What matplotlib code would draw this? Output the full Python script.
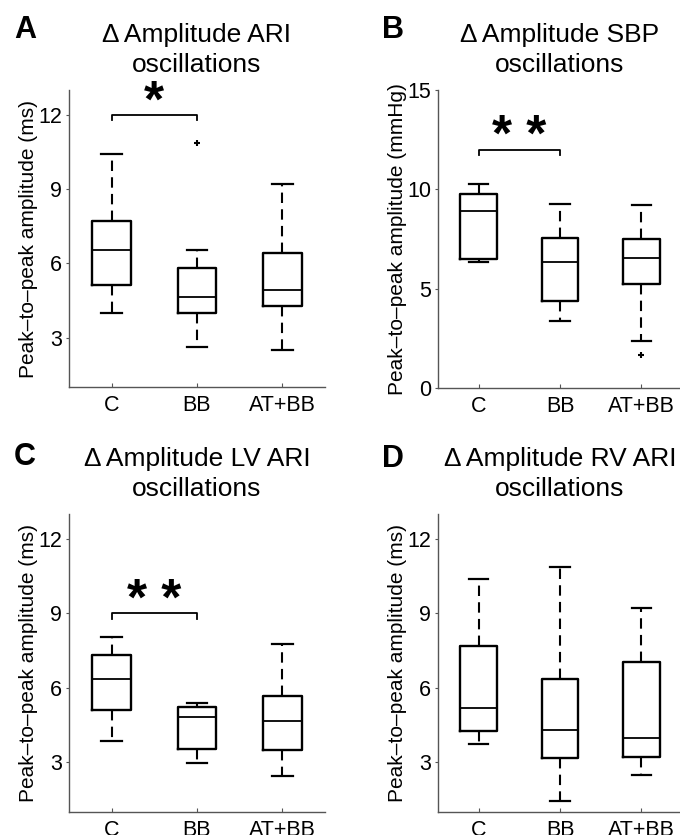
import matplotlib.pyplot as plt

plt.rcParams['font.family'] = ['Liberation Sans', 'DejaVu Sans']

groups = ['C', 'BB', 'AT+BB']

# per panel: lower whisker, q1, median, q3, upper whisker
ari_stats = [[3.97, 5.12, 6.53, 7.70, 10.40],
             [2.60, 4.00, 4.63, 5.79, 6.53],
             [2.48, 4.29, 4.92, 6.43, 9.21]]
ari_fliers = [[], [10.85], []]

sbp_stats = [[6.35, 6.48, 8.90, 9.77, 10.25],
             [3.35, 4.36, 6.33, 7.56, 9.27],
             [2.38, 5.22, 6.53, 7.49, 9.20]]
sbp_fliers = [[], [], [1.64]]

lv_stats = [[3.86, 5.10, 6.37, 7.31, 8.03],
            [2.97, 3.53, 4.81, 5.24, 5.38],
            [2.43, 3.51, 4.65, 5.69, 7.78]]
lv_fliers = [[], [], []]

rv_stats = [[3.73, 4.27, 5.20, 7.68, 10.40],
            [1.45, 3.18, 4.31, 6.34, 10.86],
            [2.47, 3.21, 4.00, 7.04, 9.20]]
rv_fliers = [[], [], []]

panels = [
    ('A', '\u0394 Amplitude ARI\noscillations', 'Peak\u2013to\u2013peak amplitude (ms)',
     ari_stats, ari_fliers, (1, 13), [3, 6, 9, 12], '*', 12.0),
    ('B', '\u0394 Amplitude SBP\noscillations', 'Peak\u2013to\u2013peak amplitude (mmHg)',
     sbp_stats, sbp_fliers, (0, 15), [0, 5, 10, 15], '* *', 12.0),
    ('C', '\u0394 Amplitude LV ARI\noscillations', 'Peak\u2013to\u2013peak amplitude (ms)',
     lv_stats, lv_fliers, (1, 13), [3, 6, 9, 12], '* *', 9.0),
    ('D', '\u0394 Amplitude RV ARI\noscillations', 'Peak\u2013to\u2013peak amplitude (ms)',
     rv_stats, rv_fliers, (1, 13), [3, 6, 9, 12], None, None),
]

W, H = 680, 835
# axes boxes in pixels: left, top, right, bottom
boxes = [(69, 90, 325, 387), (438, 90, 682, 388),
         (69, 514, 325, 812), (438, 514, 682, 812)]
letter_pos = [(14, 38), (382, 38), (14, 465), (382, 467)]

fig = plt.figure(figsize=(W / 100, H / 100), dpi=100)

for box, lp, (letter, title, ylabel, stats, fliers, ylim, yticks, star, bar_y) in zip(boxes, letter_pos, panels):
    l, t, r, b = box
    ax = fig.add_axes([l / W, 1 - b / H, (r - l) / W, (b - t) / H])
    bstats = []
    for g, s, fl in zip(groups, stats, fliers):
        bstats.append(dict(label=g, whislo=s[0], q1=s[1], med=s[2], q3=s[3],
                           whishi=s[4], fliers=fl))
    ax.bxp(bstats, positions=[1, 2, 3], widths=0.45, capwidths=0.24,
           boxprops=dict(color='black', linewidth=1.7),
           medianprops=dict(color='black', linewidth=1.3),
           whiskerprops=dict(color='black', linewidth=1.5, linestyle=(0, (5, 3))),
           capprops=dict(color='black', linewidth=1.6),
           flierprops=dict(marker='+', markersize=5, markeredgecolor='black',
                           markeredgewidth=1.5))
    ax.set_xlim(0.5, 3.5)
    ax.set_ylim(*ylim)
    ax.set_yticks(yticks)
    ax.set_xticks([1, 2, 3])
    ax.set_xticklabels(groups)
    for sp in ['top', 'right']:
        ax.spines[sp].set_visible(False)
    for sp in ['left', 'bottom']:
        ax.spines[sp].set_color('#555555')
        ax.spines[sp].set_linewidth(1.0)
    ax.tick_params(axis='x', direction='in', length=3, color='#555555',
                   labelsize=15.5, pad=6)
    ax.tick_params(axis='y', direction='out', length=2.5, color='#555555',
                   labelsize=15.5, pad=2.5)
    ax.set_ylabel(ylabel, fontsize=15, labelpad=0)
    ax.set_title(title, fontsize=19, linespacing=1.33, pad=13)
    fig.text(lp[0] / W, 1 - lp[1] / H, letter, fontsize=22, fontweight='bold',
             ha='left', va='baseline')
    if star:
        span = ylim[1] - ylim[0]
        tick = 0.018 * span
        ax.plot([1, 1, 2, 2], [bar_y - tick, bar_y, bar_y, bar_y - tick],
                color='black', linewidth=1.3, clip_on=False)
        ax.annotate(star, xy=(1.5, bar_y), xytext=(0, -1), textcoords='offset points',
                    ha='center', va='baseline', fontsize=37, fontweight='bold',
                    annotation_clip=False)

fig.savefig('out.png', dpi=100)
